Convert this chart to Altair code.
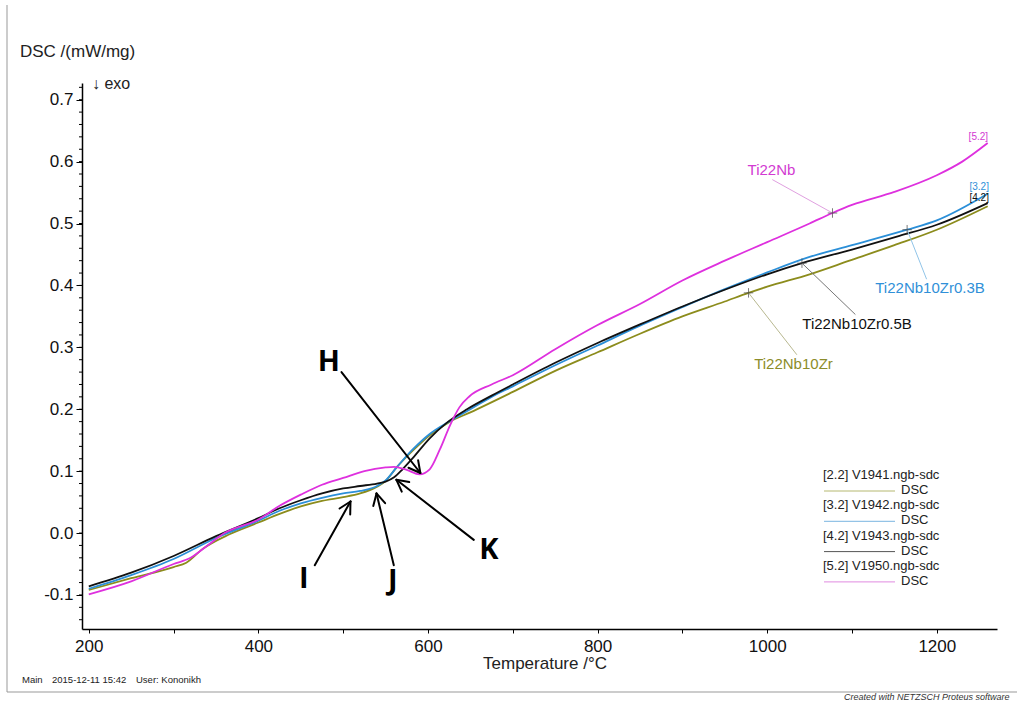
import altair as alt
import pandas as pd
import numpy as np

# ---------------- data ----------------
names = ["Ti22Nb10Zr", "Ti22Nb10Zr0.3B", "Ti22Nb10Zr0.5B", "Ti22Nb"]
colors = ["#8c8c1c", "#2b8fd8", "#111111", "#de30de"]

t_zr = [200, 250, 300, 315, 334, 366, 400, 425, 450, 475, 500, 520, 540, 550, 563, 582, 602, 626, 650,
        700, 750, 800, 850, 900, 950, 978, 1000, 1050, 1097, 1150, 1200, 1260]
d_zr = [-0.092, -0.073, -0.055, -0.048, -0.026, -0.002, 0.017, 0.031, 0.043, 0.052, 0.058, 0.064, 0.075,
        0.084, 0.106, 0.133, 0.158, 0.180, 0.195, 0.228, 0.262, 0.292, 0.322, 0.350, 0.374, 0.388, 0.398,
        0.418, 0.440, 0.465, 0.490, 0.528]

t_03b = [200, 250, 300, 350, 400, 425, 450, 475, 500, 520, 540, 550, 563, 582, 602, 626, 650, 675, 700,
         750, 800, 850, 900, 950, 1000, 1050, 1100, 1165, 1200, 1260]
d_03b = [-0.090, -0.068, -0.042, -0.008, 0.020, 0.036, 0.048, 0.057, 0.064, 0.068, 0.076, 0.085, 0.106,
         0.135, 0.160, 0.181, 0.200, 0.220, 0.237, 0.271, 0.303, 0.335, 0.365, 0.394, 0.421, 0.446, 0.465,
         0.490, 0.505, 0.548]

t_05b = [200, 250, 300, 350, 400, 425, 450, 475, 500, 520, 540, 550, 560, 570, 582, 602, 622, 646, 675,
         700, 750, 800, 850, 900, 950, 1000, 1041, 1100, 1156, 1200, 1260]
d_05b = [-0.086, -0.064, -0.037, -0.005, 0.024, 0.040, 0.053, 0.064, 0.072, 0.076, 0.080, 0.083, 0.090,
         0.103, 0.121, 0.153, 0.178, 0.200, 0.222, 0.240, 0.275, 0.307, 0.337, 0.366, 0.393, 0.418, 0.436,
         0.458, 0.480, 0.498, 0.533]

t_nb = [200, 250, 300, 320, 340, 360, 400, 425, 450, 475, 500, 525, 550, 560, 575, 590, 602, 614, 626,
        637, 649, 675, 700, 750, 800, 850, 900, 950, 1000, 1050, 1077, 1100, 1150, 1200, 1230, 1260]
d_nb = [-0.099, -0.078, -0.050, -0.040, -0.020, 0.000, 0.022, 0.044, 0.062, 0.078, 0.089, 0.100, 0.106,
        0.107, 0.102, 0.095, 0.103, 0.135, 0.174, 0.203, 0.221, 0.240, 0.255, 0.297, 0.336, 0.370, 0.408,
        0.440, 0.470, 0.500, 0.517, 0.530, 0.551, 0.578, 0.600, 0.630]

series_t = [t_zr, t_03b, t_05b, t_nb]
series_d = [d_zr, d_03b, d_05b, d_nb]

# curve labels: text, text position, leader start, cross position (T, DSC)
lab_text = ["Ti22Nb10Zr", "Ti22Nb10Zr0.3B", "Ti22Nb10Zr0.5B", "Ti22Nb"]
lab_pos = [(1031, 0.273), (1192, 0.396), (1106, 0.338), (1005, 0.586)]
lab_lead = [(1035, 0.288), (1188, 0.410), (1104, 0.353), (1006, 0.571)]
lab_cross = [(978, 0.388), (1165, 0.490), (1041, 0.436), (1077, 0.517)]
lab_color = ["#8c8c2a", "#3090d8", "#111111", "#d23ad2"]
lead_color = ["#b8b890", "#90c4e8", "#777777", "#e0a0e0"]

end_tags = ["[5.2]", "[3.2]", "[4.2]"]
end_pos = [(1249, 0.640), (1250, 0.559), (1250, 0.541)]
end_color = ["#d23ad2", "#3090d8", "#111111"]

legend_files = ["[2.2] V1941.ngb-sdc", "[3.2] V1942.ngb-sdc", "[4.2] V1943.ngb-sdc", "[5.2] V1950.ngb-sdc"]
legend_cols = ["#b5b870", "#7ab4e0", "#555555", "#e08ae0"]

# letter annotations: letter, text pos, arrow start, arrow tip
ann_letters = ["H", "I", "J", "K"]
ann_text = [(483, 0.276), (453.5, -0.075), (558.5, -0.077), (671.7, -0.028)]
ann_from = [(498, 0.260), (466.5, -0.052), (559.7, -0.052), (654, -0.011)]
ann_to = [(591, 0.097), (508.6, 0.051), (539.3, 0.064), (562.8, 0.086)]

x_ticks = list(range(200, 1300, 100))
y_ticks = [-0.1, 0.0, 0.1, 0.2, 0.3, 0.4, 0.5, 0.6, 0.7]

# ---------------- geometry ----------------
X_DOM = [192, 1271]
Y_DOM = [-0.155, 0.727]
W, H = 915, 546
PL, PT = 82, 83
FONT = "Liberation Sans"

xs = alt.Scale(domain=X_DOM, nice=False, zero=False)
ys = alt.Scale(domain=Y_DOM, nice=False, zero=False)


def to_px(t, v):
    return ((t - X_DOM[0]) / (X_DOM[1] - X_DOM[0]) * W, (Y_DOM[1] - v) / (Y_DOM[1] - Y_DOM[0]) * H)


def to_data(px, py):
    return (X_DOM[0] + px / W * (X_DOM[1] - X_DOM[0]), Y_DOM[1] - py / H * (Y_DOM[1] - Y_DOM[0]))


one = pd.DataFrame({"a": [0]})
layers = []

# minor y ticks
minor = pd.DataFrame({"v": [round(-0.14 + 0.02 * i, 2) for i in range(44) if -0.155 <= -0.14 + 0.02 * i <= 0.727]})
layers.append(alt.Chart(minor).mark_rule(color="black", strokeWidth=1).encode(
    y=alt.Y("v:Q", scale=ys), x=alt.value(-3), x2=alt.value(0)))

# curves
for i, nm in enumerate(names):
    df = pd.DataFrame({"T": series_t[i], "DSC": series_d[i]})
    ch = alt.Chart(df).mark_line(color=colors[i], strokeWidth=1.8, interpolate="monotone").encode(
        x=alt.X("T:Q", scale=xs, axis=alt.Axis(
            values=x_ticks, labelExpr="datum.value % 200 == 0 ? datum.label : ''", format="d",
            title=None, grid=False, tickSize=4, tickColor="black", domainColor="black", domainWidth=1.5,
            labelFont=FONT, labelFontSize=17, labelColor="#111", labelPadding=5)),
        y=alt.Y("DSC:Q", scale=ys, axis=alt.Axis(
            values=y_ticks, format=".1f", labelExpr="replace(datum.label, '\u2212', '-')",
            title=None, grid=False, tickSize=6, tickColor="black",
            domainColor="black", domainWidth=1.5, labelFont=FONT, labelFontSize=17, labelColor="#111",
            labelPadding=3)),
    )
    layers.append(ch)

# leader lines, crosses, labels
for i in range(4):
    seg = pd.DataFrame({"x": [lab_lead[i][0]], "y": [lab_lead[i][1]],
                        "x2": [lab_cross[i][0]], "y2": [lab_cross[i][1]]})
    layers.append(alt.Chart(seg).mark_rule(color=lead_color[i], strokeWidth=1).encode(
        x=alt.X("x:Q", scale=xs), y=alt.Y("y:Q", scale=ys), x2="x2:Q", y2="y2:Q"))
    cr = pd.DataFrame({"x": [lab_cross[i][0]], "y": [lab_cross[i][1]]})
    layers.append(alt.Chart(cr).mark_point(shape="M-1,0L1,0M0,-1L0,1", size=90, color="#444",
                                          strokeWidth=1, filled=False).encode(
        x=alt.X("x:Q", scale=xs), y=alt.Y("y:Q", scale=ys)))
    tx = pd.DataFrame({"x": [lab_pos[i][0]], "y": [lab_pos[i][1]], "t": [lab_text[i]]})
    layers.append(alt.Chart(tx).mark_text(font=FONT, fontSize=15, color=lab_color[i], align="center",
                                         baseline="middle").encode(
        x=alt.X("x:Q", scale=xs), y=alt.Y("y:Q", scale=ys), text="t:N"))

for i in range(3):
    tx = pd.DataFrame({"x": [end_pos[i][0]], "y": [end_pos[i][1]], "t": [end_tags[i]]})
    layers.append(alt.Chart(tx).mark_text(font=FONT, fontSize=10, color=end_color[i], align="center",
                                         baseline="middle").encode(
        x=alt.X("x:Q", scale=xs), y=alt.Y("y:Q", scale=ys), text="t:N"))

# letter arrows
segs = []
for i in range(4):
    segs.append((ann_from[i][0], ann_from[i][1], ann_to[i][0], ann_to[i][1]))
    p0 = np.array(to_px(*ann_from[i]))
    p1 = np.array(to_px(*ann_to[i]))
    u = (p1 - p0) / np.linalg.norm(p1 - p0)
    for ang in (np.radians(28), -np.radians(28)):
        rot = np.array([u[0] * np.cos(ang) - u[1] * np.sin(ang), u[0] * np.sin(ang) + u[1] * np.cos(ang)])
        w = p1 - 13 * rot
        wd = to_data(*w)
        segs.append((wd[0], wd[1], ann_to[i][0], ann_to[i][1]))
segdf = pd.DataFrame(segs, columns=["x", "y", "x2", "y2"])
layers.append(alt.Chart(segdf).mark_rule(color="black", strokeWidth=2, strokeCap="round").encode(
    x=alt.X("x:Q", scale=xs), y=alt.Y("y:Q", scale=ys), x2="x2:Q", y2="y2:Q"))

letdf = pd.DataFrame({"x": [p[0] for p in ann_text], "y": [p[1] for p in ann_text], "t": ann_letters})
layers.append(alt.Chart(letdf).mark_text(font="Open Sans", fontWeight="bold", fontSize=29, color="black",
                                         align="center", baseline="middle").encode(
    x=alt.X("x:Q", scale=xs), y=alt.Y("y:Q", scale=ys), text="t:N"))


def ptext(txt, px, py, size, align="left", color="#222", style="normal", weight="normal"):
    return alt.Chart(one).mark_text(text=txt, font=FONT, fontSize=size, align=align, baseline="middle",
                                    color=color, fontStyle=style, fontWeight=weight).encode(
        x=alt.value(px - PL), y=alt.value(py - PT))


layers.append(ptext("DSC /(mW/mg)", 20, 52, 17))
layers.append(ptext("\u2193 exo", 92, 84, 16))
layers.append(ptext("Temperature /\u00b0C", 545, 664, 17, align="center"))
layers.append(ptext("Main", 22, 680, 9.5))
layers.append(ptext("2015-12-11 15:42", 52, 680, 9.5))
layers.append(ptext("User: Kononikh", 136, 680, 9.5))
layers.append(ptext("Created with NETZSCH Proteus software", 844, 697, 9, style="italic", color="#333"))

# legend
for i in range(4):
    y0 = 475 + 30.3 * i
    layers.append(ptext(legend_files[i], 823, y0, 13))
    layers.append(alt.Chart(one).mark_rule(color=legend_cols[i], strokeWidth=1).encode(
        x=alt.value(824 - PL), x2=alt.value(895 - PL), y=alt.value(y0 + 16 - PT)))
    layers.append(ptext("DSC", 901, y0 + 15, 13))

# page frame
layers.append(alt.Chart(one).mark_rule(color="#999", strokeWidth=1).encode(
    x=alt.value(7 - PL), y=alt.value(5 - PT), y2=alt.value(692 - PT)))
layers.append(alt.Chart(one).mark_rule(color="#999", strokeWidth=1).encode(
    x=alt.value(7 - PL), x2=alt.value(1017 - PL), y=alt.value(692 - PT)))

chart = alt.layer(*layers).properties(
    width=W, height=H,
    autosize=alt.AutoSizeParams(type="none"),
    padding={"left": PL, "top": PT, "right": 1017 - PL - W, "bottom": 704 - PT - H},
    background="white",
).configure_view(stroke=None).configure_axis(labelFont=FONT)

chart.save("out.html", embed_options={"renderer": "svg", "actions": False})
